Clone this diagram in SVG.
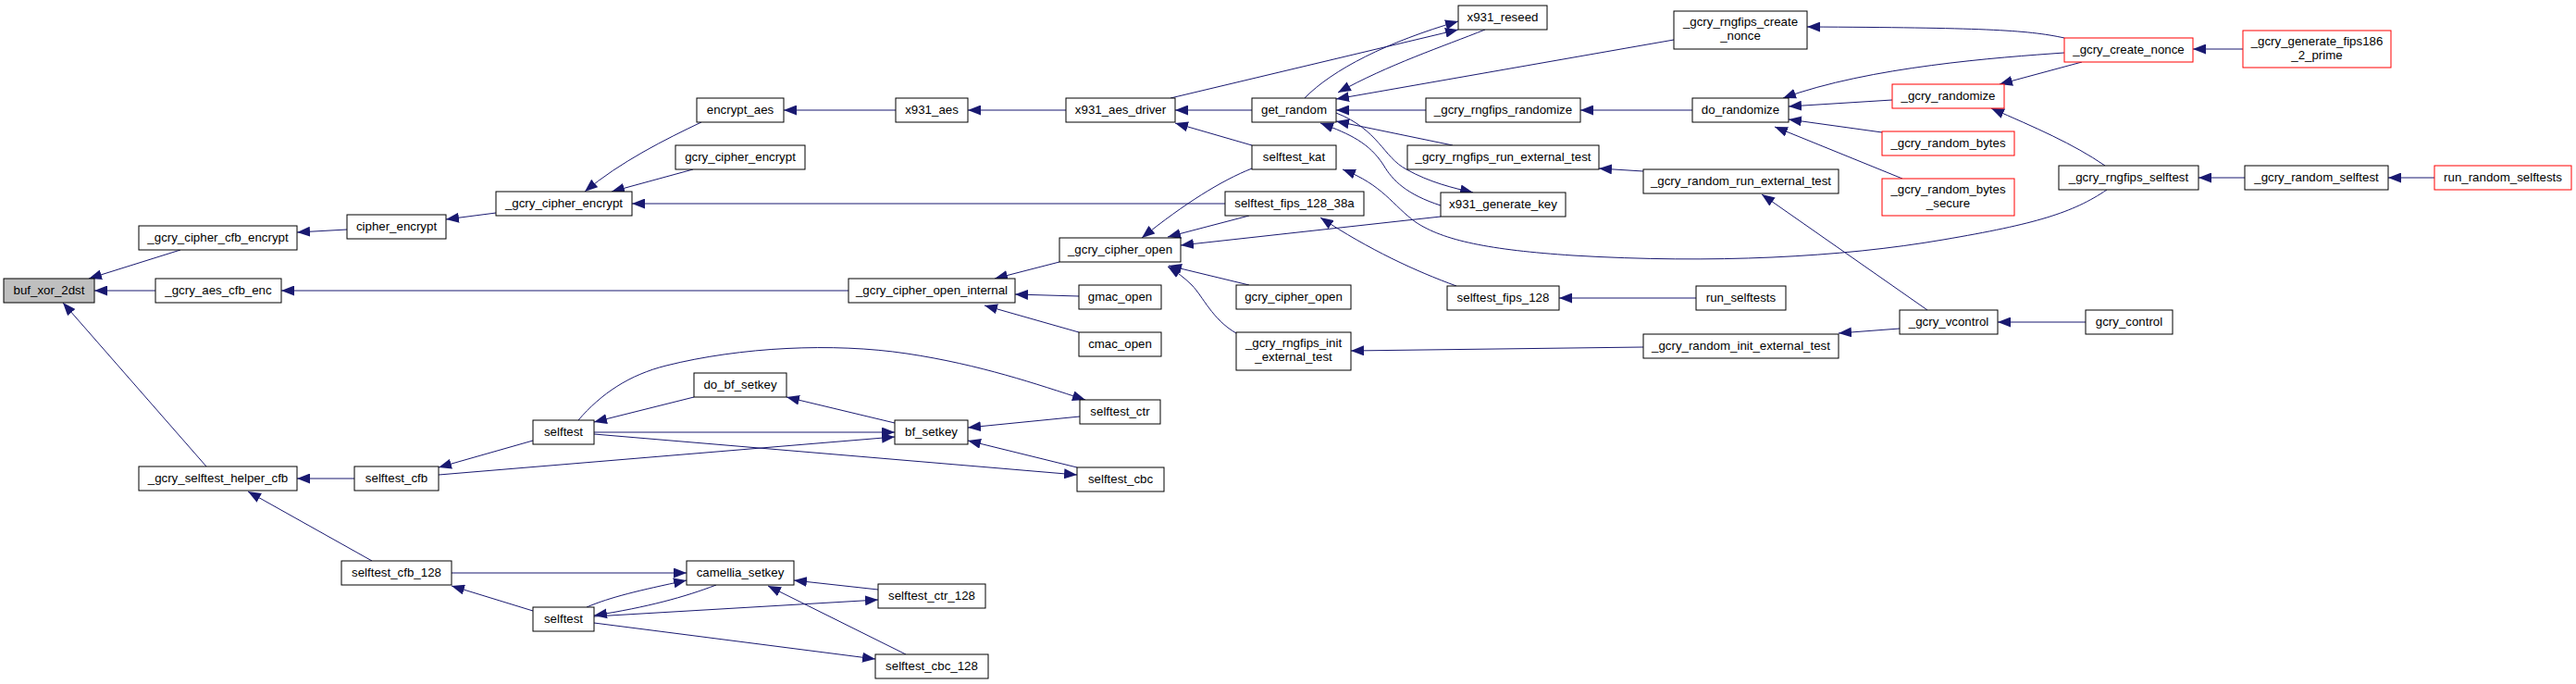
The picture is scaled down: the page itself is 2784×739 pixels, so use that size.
<svg xmlns="http://www.w3.org/2000/svg" width="2784" height="739" viewBox="0 0 2784 739">
<style>
.n rect{fill:#fff;stroke:#000;stroke-width:1}
.r rect{stroke:#ff0000}
.g rect{fill:#bfbfbf}
text{font-family:"Liberation Sans",Arial,Helvetica,sans-serif;font-size:13.3px;text-anchor:middle;fill:#000}
#edges path{fill:none;stroke:#191970;stroke-width:1;marker-end:url(#a)}
</style>
<defs>
<marker id="a" markerUnits="userSpaceOnUse" markerWidth="14" markerHeight="11" refX="14" refY="5.5" orient="auto"><path d="M0,0 L14,5.5 L0,11 z" fill="#191970"/></marker>
</defs>
<rect width="2784" height="739" fill="#fff"/>
<g id="edges">
<path d="M195,270 L96,301"/>
<path d="M168,314 L102,314"/>
<path d="M223,504 L68,327"/>
<path d="M375,248 L321,251"/>
<path d="M536,230 L482,237"/>
<path d="M758,132 C720,150 670,175 632,207"/>
<path d="M749,183 L661,207"/>
<path d="M1324,220 L683,220"/>
<path d="M968,119 L847,119"/>
<path d="M1152,119 L1070,119 L1046,119"/>
<path d="M1353,119 L1270,119"/>
<path d="M1353,157 L1270,133"/>
<path d="M1265,106 L1576,32"/>
<path d="M1410,106 C1440,75 1500,45 1576,23"/>
<path d="M1605,32 C1560,50 1500,70 1446,100"/>
<path d="M1809,43 L1444,107"/>
<path d="M1541,119 L1444,119"/>
<path d="M1570,157 L1444,131"/>
<path d="M1444,122 C1490,140 1495,170 1520,183 C1545,197 1570,203 1592,208"/>
<path d="M1557,222 C1520,210 1505,195 1495,178 C1480,155 1460,145 1427,133"/>
<path d="M1145,283 L1075,301"/>
<path d="M1353,182 C1320,195 1280,220 1234,257"/>
<path d="M1350,233 L1262,256"/>
<path d="M1557,234 L1276,265"/>
<path d="M1350,308 L1263,287"/>
<path d="M1336,360 C1310,345 1300,320 1288,308 C1280,300 1272,294 1262,288"/>
<path d="M1166,320 L1097,318"/>
<path d="M1166,359 L1064,330"/>
<path d="M917,314 L304,314"/>
<path d="M383,517 L321,517"/>
<path d="M402,606 L268,531"/>
<path d="M576,476 L474,505"/>
<path d="M576,660 L488,633"/>
<path d="M750,429 L642,456"/>
<path d="M642,467 L967,467"/>
<path d="M642,469 L1164,513"/>
<path d="M474,513 L967,472"/>
<path d="M625,454 C650,425 680,405 720,395 C800,375 900,370 980,382 C1060,394 1120,415 1173,432"/>
<path d="M967,457 L850,429"/>
<path d="M1167,450 L1046,462"/>
<path d="M1164,505 L1046,476"/>
<path d="M488,619 L742,619"/>
<path d="M634,656 C660,645 690,638 742,627"/>
<path d="M774,632 C740,645 700,656 642,665"/>
<path d="M642,666 L949,648"/>
<path d="M642,673 L946,712"/>
<path d="M949,637 L858,627"/>
<path d="M979,707 L830,633"/>
<path d="M1829,119 L1708,119"/>
<path d="M1776,185 L1728,182"/>
<path d="M2083,335 L1904,210"/>
<path d="M2053,355 L1987,360"/>
<path d="M1776,375 L1460,379"/>
<path d="M1833,322 L1685,322"/>
<path d="M1574,309 C1530,293 1480,270 1427,235"/>
<path d="M2277,205 C2240,230 2200,242 2100,259 C1990,278 1850,285 1700,276 C1610,270 1560,260 1530,240 C1505,222 1495,200 1451,183"/>
<path d="M2231,57 C2160,62 2020,72 1927,106"/>
<path d="M2045,108 L1933,115"/>
<path d="M2034,143 L1933,129"/>
<path d="M2056,193 L1918,137"/>
<path d="M2231,41 C2190,32 2140,30 1953,29"/>
<path d="M2250,67 L2161,91"/>
<path d="M2275,179 C2240,155 2200,138 2152,117"/>
<path d="M2424,53 L2370,53"/>
<path d="M2426,192 L2376,192"/>
<path d="M2631,192 L2581,192"/>
<path d="M2254,348 L2159,348"/>
</g>
<g id="n1" class="n g"><rect x="4" y="301" width="98" height="26"/><text x="53" y="318">buf_xor_2dst</text></g>
<g id="n2" class="n"><rect x="150" y="244" width="171" height="26"/><text x="235.5" y="261">_gcry_cipher_cfb_encrypt</text></g>
<g id="n3" class="n"><rect x="375" y="232" width="107" height="26"/><text x="428.5" y="249">cipher_encrypt</text></g>
<g id="n4" class="n"><rect x="536" y="207" width="147" height="26"/><text x="609.5" y="224">_gcry_cipher_encrypt</text></g>
<g id="n5" class="n"><rect x="168" y="301" width="136" height="26"/><text x="236" y="318">_gcry_aes_cfb_enc</text></g>
<g id="n6" class="n"><rect x="150" y="504" width="171" height="26"/><text x="235.5" y="521">_gcry_selftest_helper_cfb</text></g>
<g id="n7" class="n"><rect x="383" y="504" width="91" height="26"/><text x="428.5" y="521">selftest_cfb</text></g>
<g id="n8" class="n"><rect x="576" y="454" width="66" height="26"/><text x="609" y="471">selftest</text></g>
<g id="n9" class="n"><rect x="369" y="606" width="119" height="26"/><text x="428.5" y="623">selftest_cfb_128</text></g>
<g id="n10" class="n"><rect x="576" y="656" width="66" height="26"/><text x="609" y="673">selftest</text></g>
<g id="n11" class="n"><rect x="753" y="106" width="94" height="26"/><text x="800" y="123">encrypt_aes</text></g>
<g id="n12" class="n"><rect x="730" y="157" width="140" height="26"/><text x="800" y="174">gcry_cipher_encrypt</text></g>
<g id="n13" class="n"><rect x="968" y="106" width="78" height="26"/><text x="1007" y="123">x931_aes</text></g>
<g id="n14" class="n"><rect x="1152" y="106" width="118" height="26"/><text x="1211" y="123">x931_aes_driver</text></g>
<g id="n15" class="n"><rect x="1353" y="106" width="91" height="26"/><text x="1398.5" y="123">get_random</text></g>
<g id="n16" class="n"><rect x="1353" y="157" width="91" height="26"/><text x="1398.5" y="174">selftest_kat</text></g>
<g id="n17" class="n"><rect x="1324" y="207" width="150" height="26"/><text x="1399" y="224">selftest_fips_128_38a</text></g>
<g id="n18" class="n"><rect x="1145" y="257" width="131" height="26"/><text x="1210.5" y="274">_gcry_cipher_open</text></g>
<g id="n19" class="n"><rect x="917" y="301" width="180" height="26"/><text x="1007" y="318">_gcry_cipher_open_internal</text></g>
<g id="n20" class="n"><rect x="1166" y="308" width="89" height="26"/><text x="1210.5" y="325">gmac_open</text></g>
<g id="n21" class="n"><rect x="1166" y="359" width="89" height="26"/><text x="1210.5" y="376">cmac_open</text></g>
<g id="n22" class="n"><rect x="1336" y="308" width="124" height="26"/><text x="1398" y="325">gcry_cipher_open</text></g>
<g id="n23" class="n"><rect x="1336" y="359" width="124" height="41"/><text x="1398" y="375">_gcry_rngfips_init</text><text x="1398" y="390">_external_test</text></g>
<g id="n24" class="n"><rect x="750" y="403" width="100" height="26"/><text x="800" y="420">do_bf_setkey</text></g>
<g id="n25" class="n"><rect x="1167" y="432" width="87" height="26"/><text x="1210.5" y="449">selftest_ctr</text></g>
<g id="n26" class="n"><rect x="967" y="454" width="79" height="26"/><text x="1006.5" y="471">bf_setkey</text></g>
<g id="n27" class="n"><rect x="1164" y="505" width="94" height="26"/><text x="1211" y="522">selftest_cbc</text></g>
<g id="n28" class="n"><rect x="742" y="606" width="116" height="26"/><text x="800" y="623">camellia_setkey</text></g>
<g id="n29" class="n"><rect x="949" y="631" width="116" height="26"/><text x="1007" y="648">selftest_ctr_128</text></g>
<g id="n30" class="n"><rect x="946" y="707" width="122" height="26"/><text x="1007" y="724">selftest_cbc_128</text></g>
<g id="n31" class="n"><rect x="1576" y="6" width="96" height="26"/><text x="1624" y="23">x931_reseed</text></g>
<g id="n32" class="n"><rect x="1809" y="12" width="144" height="41"/><text x="1881" y="28">_gcry_rngfips_create</text><text x="1881" y="43">_nonce</text></g>
<g id="n33" class="n"><rect x="1541" y="106" width="167" height="26"/><text x="1624.5" y="123">_gcry_rngfips_randomize</text></g>
<g id="n34" class="n"><rect x="1829" y="106" width="104" height="26"/><text x="1881" y="123">do_randomize</text></g>
<g id="n35" class="n"><rect x="1521" y="157" width="207" height="26"/><text x="1624.5" y="174">_gcry_rngfips_run_external_test</text></g>
<g id="n36" class="n"><rect x="1776" y="183" width="211" height="26"/><text x="1881.5" y="200">_gcry_random_run_external_test</text></g>
<g id="n37" class="n"><rect x="1557" y="208" width="135" height="26"/><text x="1624.5" y="225">x931_generate_key</text></g>
<g id="n38" class="n"><rect x="1564" y="309" width="121" height="26"/><text x="1624.5" y="326">selftest_fips_128</text></g>
<g id="n39" class="n"><rect x="1833" y="309" width="97" height="26"/><text x="1881.5" y="326">run_selftests</text></g>
<g id="n40" class="n"><rect x="1776" y="361" width="211" height="26"/><text x="1881.5" y="378">_gcry_random_init_external_test</text></g>
<g id="n41" class="n"><rect x="2053" y="335" width="106" height="26"/><text x="2106" y="352">_gcry_vcontrol</text></g>
<g id="n42" class="n"><rect x="2254" y="335" width="94" height="26"/><text x="2301" y="352">gcry_control</text></g>
<g id="n43" class="n r"><rect x="2045" y="91" width="121" height="26"/><text x="2105.5" y="108">_gcry_randomize</text></g>
<g id="n44" class="n r"><rect x="2034" y="142" width="143" height="26"/><text x="2105.5" y="159">_gcry_random_bytes</text></g>
<g id="n45" class="n r"><rect x="2034" y="193" width="143" height="40"/><text x="2105.5" y="208.5">_gcry_random_bytes</text><text x="2105.5" y="223.5">_secure</text></g>
<g id="n46" class="n r"><rect x="2231" y="41" width="139" height="26"/><text x="2300.5" y="58">_gcry_create_nonce</text></g>
<g id="n47" class="n r"><rect x="2424" y="33" width="160" height="40"/><text x="2504" y="48.5">_gcry_generate_fips186</text><text x="2504" y="63.5">_2_prime</text></g>
<g id="n48" class="n"><rect x="2225" y="179" width="151" height="26"/><text x="2300.5" y="196">_gcry_rngfips_selftest</text></g>
<g id="n49" class="n"><rect x="2426" y="179" width="155" height="26"/><text x="2503.5" y="196">_gcry_random_selftest</text></g>
<g id="n50" class="n r"><rect x="2631" y="179" width="148" height="26"/><text x="2705" y="196">run_random_selftests</text></g>
</svg>
